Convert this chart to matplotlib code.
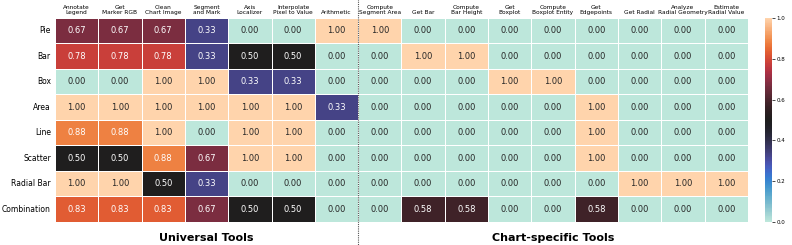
import numpy as np
import matplotlib
matplotlib.use("Agg")
import matplotlib.pyplot as plt
import seaborn as sns

linhas = ["Pie", "Bar", "Box", "Area", "Line", "Scatter", "Radial Bar", "Combination"]
colunas = ["Annotate\nLegend", "Get\nMarker RGB", "Clean\nChart Image", "Segment\nand Mark",
           "Axis\nLocalizer", "Interpolate\nPixel to Value", "Arithmetic", "Compute\nSegment Area",
           "Get Bar", "Compute\nBar Height", "Get\nBoxplot", "Compute\nBoxplot Entity",
           "Get\nEdgepoints", "Get Radial", "Analyze\nRadial Geometry", "Estimate\nRadial Value"]

pie = [0.67, 0.67, 0.67, 0.33, 0, 0, 1, 1, 0, 0, 0, 0, 0, 0, 0, 0]
bar = [0.78, 0.78, 0.78, 0.33, 0.5, 0.5, 0, 0, 1, 1, 0, 0, 0, 0, 0, 0]
box = [0, 0, 1, 1, 0.33, 0.33, 0, 0, 0, 0, 1, 1, 0, 0, 0, 0]
area = [1, 1, 1, 1, 1, 1, 0.33, 0, 0, 0, 0, 0, 1, 0, 0, 0]
line = [0.88, 0.88, 1, 0, 1, 1, 0, 0, 0, 0, 0, 0, 1, 0, 0, 0]
scatter = [0.5, 0.5, 0.88, 0.67, 1, 1, 0, 0, 0, 0, 0, 0, 1, 0, 0, 0]
radial_bar = [1, 1, 0.5, 0.33, 0, 0, 0, 0, 0, 0, 0, 0, 0, 1, 1, 1]
combination = [0.83, 0.83, 0.83, 0.67, 0.5, 0.5, 0, 0, 0.58, 0.58, 0, 0, 0.58, 0, 0, 0]

dados = np.array([pie, bar, box, area, line, scatter, radial_bar, combination])

fig = plt.figure(figsize=(7.92, 2.45), dpi=100)
ax = fig.add_axes([0.0694, 0.094, 0.875, 0.833])
cax = fig.add_axes([0.966, 0.094, 0.009, 0.833])

sns.heatmap(dados, ax=ax, cbar_ax=cax, cmap="icefire", vmin=0, vmax=1,
            annot=True, fmt=".2f", annot_kws={"size": 6},
            linewidths=0.5, linecolor="white",
            xticklabels=colunas, yticklabels=linhas)

ax.xaxis.tick_top()
ax.tick_params(axis="x", length=0, labelsize=4.2, pad=2)
ax.tick_params(axis="y", length=0, labelsize=5.5, pad=3)
plt.setp(ax.get_xticklabels(), rotation=0, ha="center", linespacing=1.1)
plt.setp(ax.get_yticklabels(), rotation=0)

cax.tick_params(labelsize=4, length=2, width=0.5, pad=1)
cax.set_yticks([0, 0.2, 0.4, 0.6, 0.8, 1.0])

# linha divisoria entre ferramentas universais e especificas
ax.plot([7, 7], [-0.9, 9.1], linestyle=(0, (1, 1)), color="#555555", linewidth=0.8, clip_on=False)

ax.text(3.5, 8.62, "Universal Tools", ha="center", va="center", fontsize=8, fontweight="bold")
ax.text(11.5, 8.62, "Chart-specific Tools", ha="center", va="center", fontsize=8, fontweight="bold")

fig.savefig("out.png", dpi=100)
